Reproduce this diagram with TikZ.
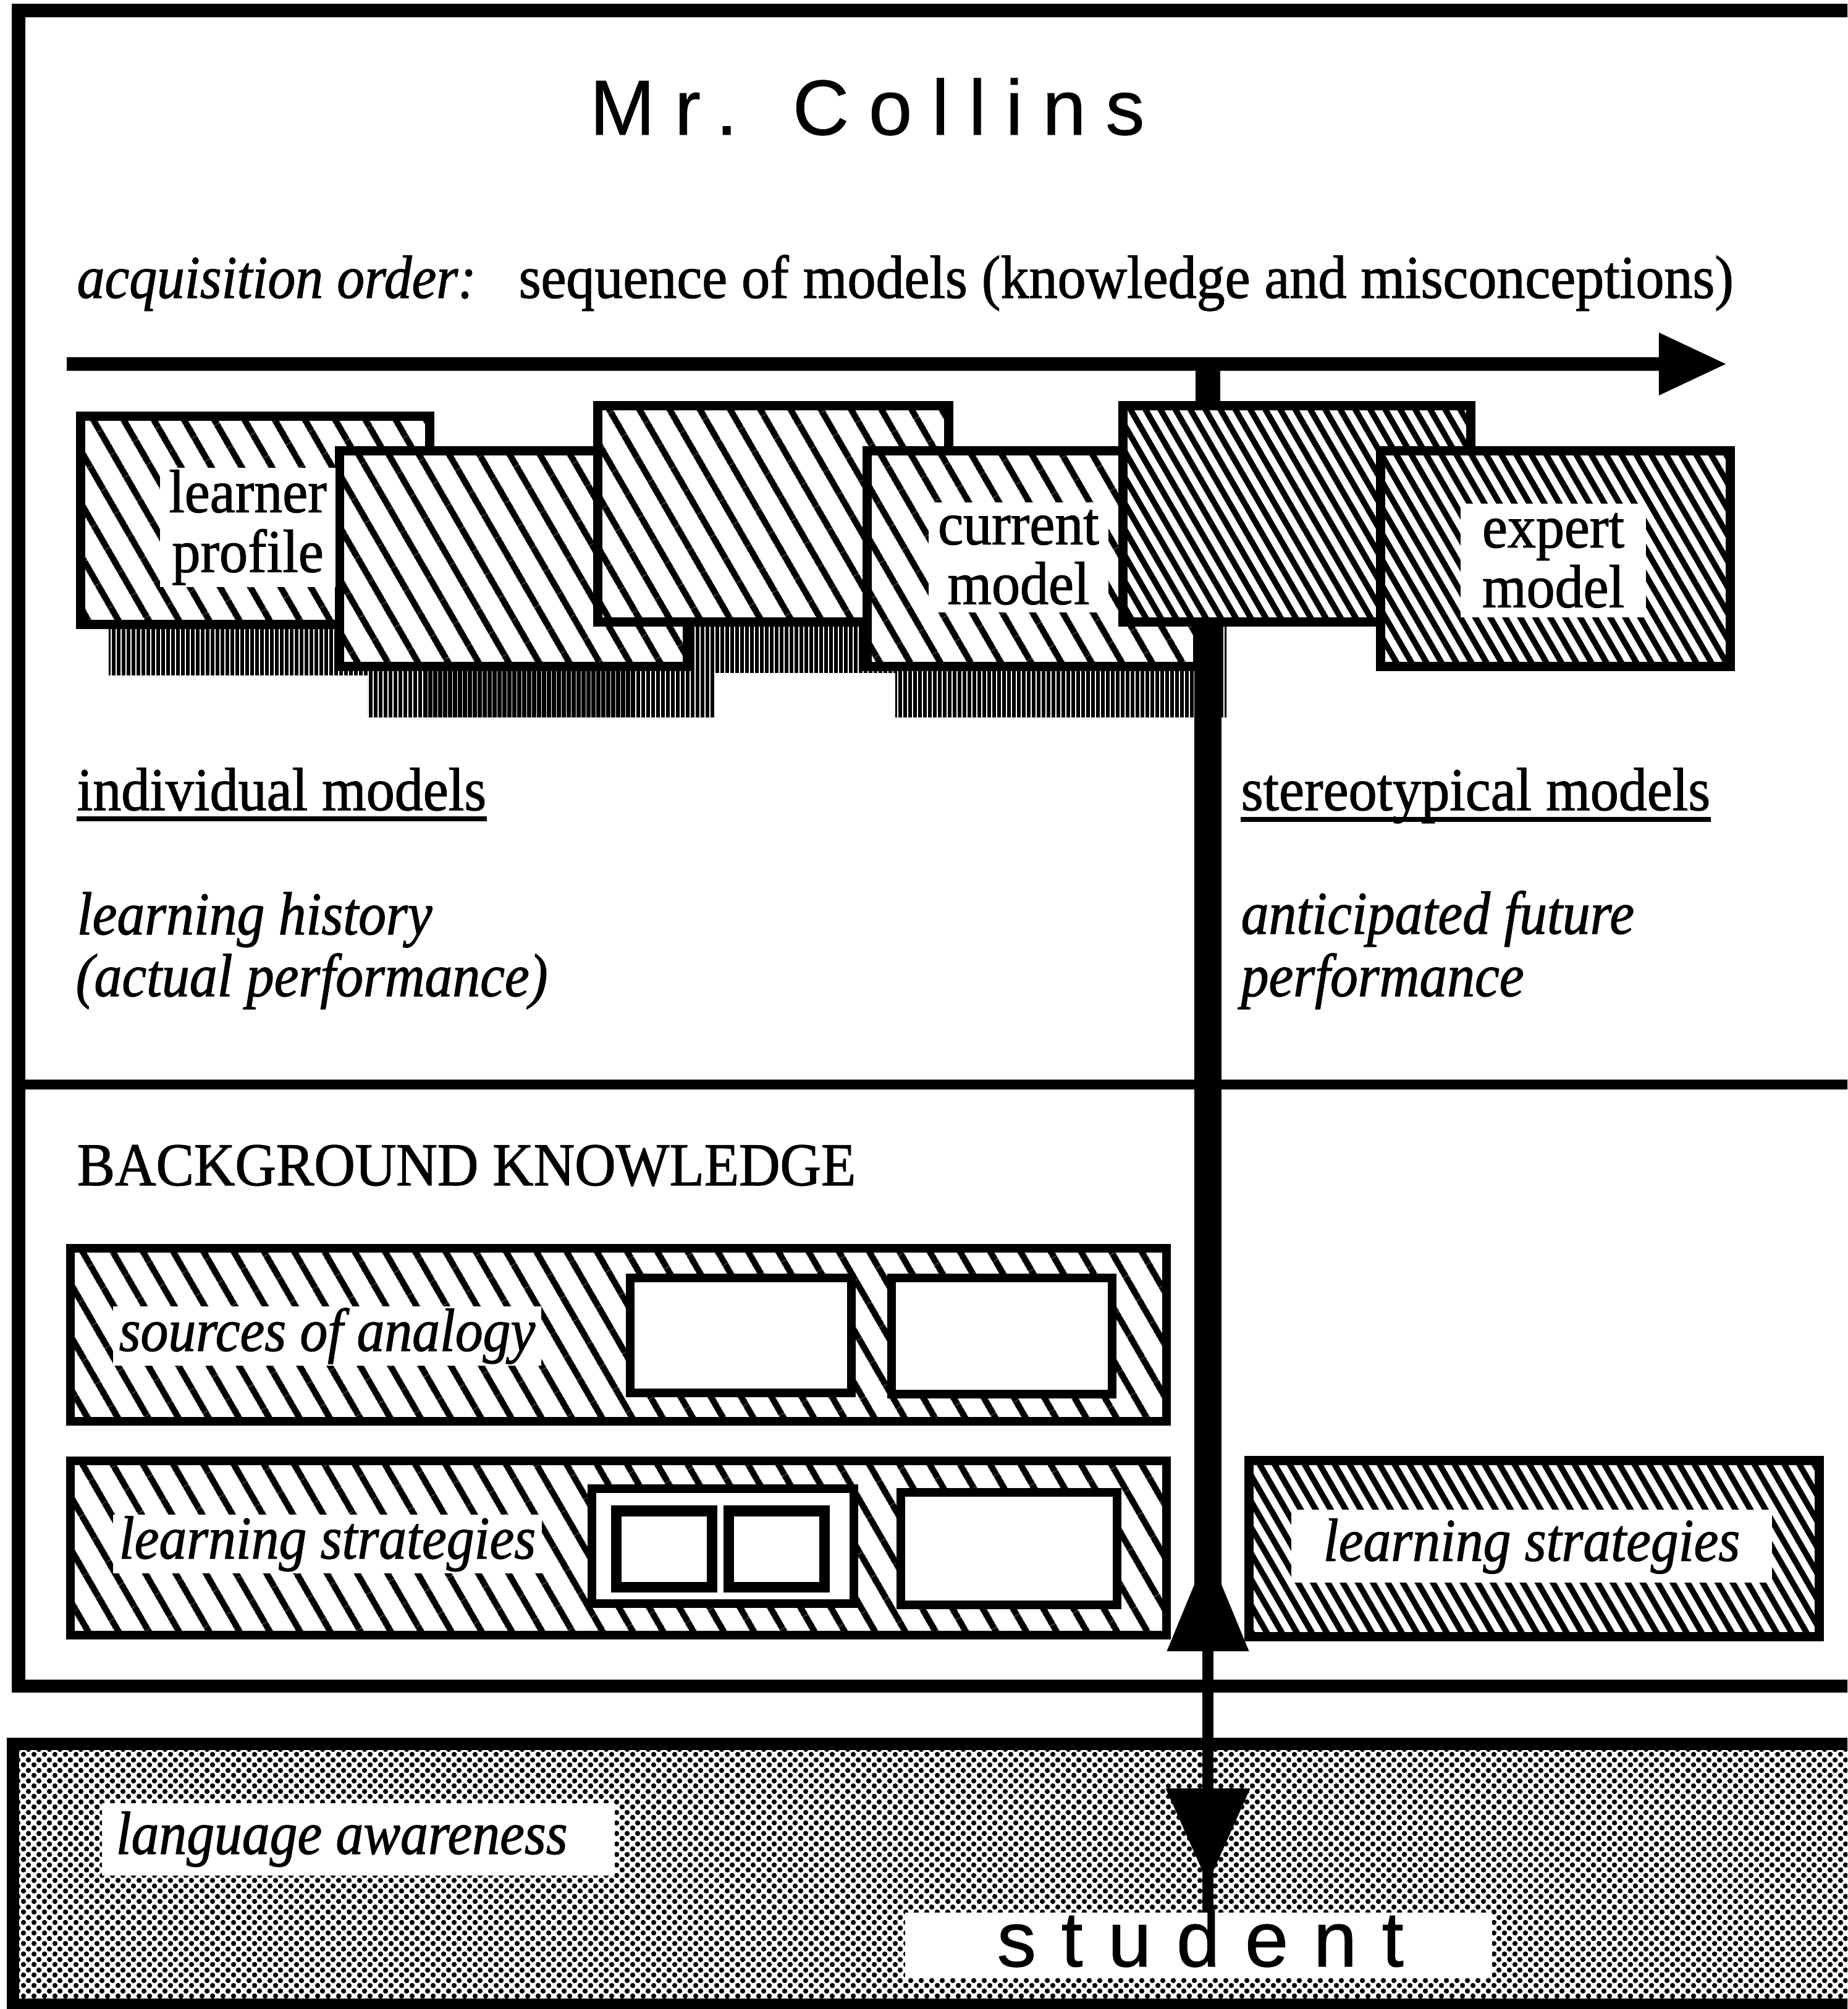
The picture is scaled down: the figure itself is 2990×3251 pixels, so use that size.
\documentclass[tikz,border=0pt]{standalone}
\usepackage{fontspec}
\setmainfont{Liberation Serif}[FakeStretch=0.935,FakeBold=1.2,ItalicFeatures={FakeStretch=0.91}]
\newfontfamily\titlefont{Liberation Sans}[LetterSpace=25,FakeBold=0.6]
\newfontfamily\studfont{Liberation Sans}[LetterSpace=32,FakeBold=0.8]
\usetikzlibrary{patterns.meta,arrows.meta}

% halftone dots for the student area
\tikzdeclarepattern{
  name=halftone,
  type=uncolored,
  tile size={(1.7mm,1.7mm)},
  bounding box={(0mm,0mm) and (1.7mm,1.7mm)},
  code={
    \pgfpathcircle{\pgfpoint{0.425mm}{0.425mm}}{0.44mm}
    \pgfpathcircle{\pgfpoint{1.275mm}{1.275mm}}{0.44mm}
    \pgfusepath{fill}
  }
}

\tikzset{
  framestroke/.style={line width=2.1mm},
  divider/.style={line width=1.6mm},
  sparsehatch/.style={pattern={Lines[angle=-60,distance=4.3mm,line width=1.05mm]}},
  densehatch/.style={pattern={Lines[angle=-60,distance=2.1mm,line width=0.95mm]}},
  shadowhatch/.style={pattern={Lines[angle=90,distance=0.8mm,line width=0.62mm]}},
  modelbox/.style={draw, line width=1.5mm, preaction={fill=white}, sparsehatch},
  stereobox/.style={draw, line width=1.5mm, preaction={fill=white}, densehatch},
  shadowbox/.style={shadowhatch},
  knowbox/.style={draw, line width=1.4mm, preaction={fill=white}, sparsehatch},
  slotbox/.style={draw, line width=1.4mm, fill=white},
  cellbox/.style={draw, line width=1.7mm, fill=white},
  whitepatch/.style={fill=white},
  studentarea/.style={draw, line width=2mm, pattern=halftone, pattern color=black},
  bodytext/.style={inner sep=0pt, font=\fontsize{28pt}{27pt}\selectfont},
  italictext/.style={inner sep=0pt, font=\fontsize{28pt}{27pt}\selectfont\itshape},
  modellabel/.style={fill=white, align=center, inner sep=0pt, font=\fontsize{28pt}{27.5pt}\selectfont},
  underbar/.style={line width=0.8mm},
  seqarrow/.style={line width=2.2mm, -{Triangle[length=11mm,width=9.5mm]}},
  axisstem/.style={line width=4mm},
  thickconn/.style={line width=4.4mm},
  thinconn/.style={line width=1.8mm},
}

% rectangle node from two corners given in picture units
\newcommand\rectnode[6][]{%
  \pgfmathsetmacro\rnW{(#5-#3)/10}%
  \pgfmathsetmacro\rnH{(#6-#4)/10}%
  \pgfmathsetmacro\rnX{(#3+#5)/2}%
  \pgfmathsetmacro\rnY{(#4+#6)/2}%
  \node[inner sep=0pt, outer sep=0pt, minimum width=\rnW mm, minimum height=\rnH mm, #1] (#2) at (\rnX,\rnY) {};%
}
% white label field with centred text
\newcommand\labelnode[6]{%
  \pgfmathsetmacro\rnW{(#4-#2)/10}%
  \pgfmathsetmacro\rnH{(#5-#3)/10}%
  \pgfmathsetmacro\rnX{(#2+#4)/2}%
  \pgfmathsetmacro\rnY{(#3+#5)/2}%
  \node[modellabel, minimum width=\rnW mm, minimum height=\rnH mm] (#1) at (\rnX,\rnY) {#6};%
}

\begin{document}
\begin{tikzpicture}[x=0.01cm,y=-0.01cm]
\useasboundingbox (0,0) rectangle (2990,3251);
\clip (0,0) rectangle (2990,3251);
\fill[white] (0,0) rectangle (2990,3251);

% frame of the tutor model
\draw[framestroke] (3200,17) -- (30,17) -- (30,2728) -- (3200,2728);
\draw[divider] (30,1755) -- (3200,1755);

% title
\node[inner sep=0pt, anchor=base west, font=\titlefont\fontsize{36pt}{40pt}\selectfont] (title) at (954,218) {Mr. Collins};

% acquisition order
\node[italictext, anchor=base west] (acq) at (124,482) {acquisition order:};
\node[bodytext, anchor=base west] (seq) at (839,482) {sequence of models (knowledge and misconceptions)};

\coordinate (arrowL) at (108,589);
\coordinate (arrowR) at (2795,589);
\coordinate (axis) at (1955,589);
\draw[seqarrow] (arrowL) -- (arrowR);

% shadows of the individual models
\rectnode[shadowbox]{s1}{176}{756}{740}{1092}
\rectnode[shadowbox]{s2}{595}{812}{1157}{1160}
\rectnode[shadowbox]{s3}{1013}{739}{1580}{1088}
\rectnode[shadowbox]{s4}{1449}{812}{1985}{1160}

% sequence of models
\rectnode[modelbox]{m1}{131}{674}{695}{1010}
\rectnode[modelbox]{m2}{550}{730}{1112}{1078}
\rectnode[modelbox]{m3}{968}{657}{1535}{1006}
\rectnode[modelbox]{m4}{1404}{730}{1938}{1078}
\rectnode[stereobox]{m5}{1818}{657}{2380}{1006}
\draw[axisstem] (axis) -- (axis |- m5.north);
\rectnode[stereobox]{m6}{2235}{730}{2800}{1078}

\labelnode{l1}{259}{757}{543}{950}{learner\\profile}
\labelnode{l4}{1503}{813}{1794}{991}{current\\model}
\labelnode{l6}{2364}{815}{2664}{999}{expert\\model}

% thick link down from the current model
\coordinate (upwide) at (1955,2600);
\draw[thickconn] (m5.south -| axis) -- (upwide);

% individual vs stereotypical models
\node[bodytext, anchor=base west] (indiv) at (124,1311) {individual models};
\draw[underbar] ([yshift=-1.4mm]indiv.base west) -- ([yshift=-1.4mm]indiv.base east);
\node[italictext, anchor=base west] (hist1) at (124,1512) {learning history};
\node[italictext, anchor=base west] (hist2) at (122,1612) {(actual performance)};

\node[bodytext, anchor=base west] (stereo) at (2008,1311) {stereotypical models};
\draw[underbar] ([yshift=-1.5mm]stereo.base west) -- ([yshift=-1.5mm]stereo.base east);
\node[italictext, anchor=base west] (fut1) at (2008,1511) {anticipated future};
\node[italictext, anchor=base west] (fut2) at (2008,1612) {performance};

% background knowledge
\node[bodytext, anchor=base west] (bgk) at (124,1918) {BACKGROUND KNOWLEDGE};

\rectnode[knowbox]{bk1}{115}{2020}{1887}{2300}
\rectnode[slotbox]{bk1a}{1020}{2068}{1378}{2254}
\rectnode[slotbox]{bk1b}{1443}{2068}{1800}{2256}
\node[italictext, fill=white, inner xsep=1mm, inner ysep=0.3mm, anchor=base west] (soa) at (182,2186) {sources of analogy};

\rectnode[knowbox]{bk2}{115}{2364}{1887}{2646}
\rectnode[slotbox]{bk2a}{958}{2409}{1382}{2595}
\rectnode[cellbox]{bk2a1}{998}{2445}{1152}{2568}
\rectnode[cellbox]{bk2a2}{1180}{2445}{1334}{2568}
\rectnode[slotbox]{bk2b}{1458}{2415}{1808}{2597}
\node[italictext, fill=white, inner xsep=1mm, inner ysep=0.3mm, anchor=base west] (lsl) at (182,2522) {learning strategies};

\rectnode[stereobox]{ls}{2022}{2364}{2944}{2648}
\node[italictext, fill=white, minimum width=77.8mm, minimum height=11.8mm] (lsr) at (2479,2502) {learning strategies};

% the student
\rectnode[studentarea]{sarea}{22}{2822}{3200}{3244}
\rectnode[whitepatch]{lawpatch}{165}{2918}{995}{3035}
\node[italictext, anchor=base west] (law) at (187,3000) {language awareness};
\rectnode[whitepatch]{studpatch}{1465}{3095}{2415}{3200}
\node[inner sep=0pt, anchor=base west, font=\studfont\fontsize{36pt}{40pt}\selectfont] (student) at (1613,3182) {student};

% two-way link between tutor and student
\coordinate (upapex) at (1955,2510);
\coordinate (upbase) at (1955,2672);
\coordinate (dtip) at (1955,3048);
\draw[thinconn, -{Triangle[length=16.2mm,width=12.8mm]}] (dtip) -- (upapex);
\draw[thinconn, -{Triangle[length=15.4mm,width=13.2mm]}] (upbase) -- (dtip);
\draw[thinconn] (dtip) -- (dtip |- studpatch.north);
\end{tikzpicture}
\end{document}
